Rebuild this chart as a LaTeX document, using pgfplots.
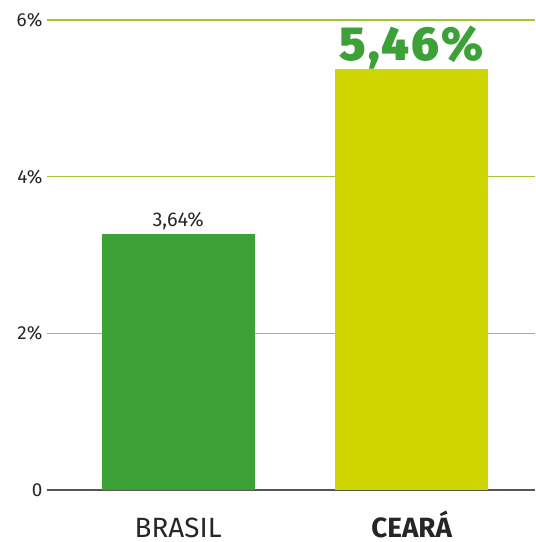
\documentclass[border=0pt]{standalone}
\usepackage{pgfplots}
\pgfplotsset{compat=1.18}
\usepackage{fontspec}
\setmainfont{Fira Sans}
\newfontfamily\heavyfont[LetterSpace=5]{Fira Sans Black}
\definecolor{barGreen}{HTML}{3DA138}
\definecolor{barYellow}{HTML}{CFD500}
\definecolor{gridGreen}{HTML}{A2C72C}
\definecolor{axisGray}{HTML}{555555}
\begin{document}
\begin{tikzpicture}
\begin{axis}[
    scale only axis,
    width=489bp, height=471bp,
    xmin=-0.562, xmax=1.528,
    ymin=0, ymax=6,
    axis x line*=bottom, axis y line*=left,
    y axis line style={draw=none},
    x axis line style={draw=axisGray, line width=1.2pt, -},
    xtick={0,1},
    xticklabels={BRASIL, \bfseries CEAR\'A},
    xticklabel style={anchor=base, inner sep=1.5bp, yshift=-43bp, font=\fontsize{28}{32}\selectfont, text=black!85},
    ytick={0,2,4,6},
    yticklabels={0, 2\%, 4\%, 6\%},
    yticklabel style={font=\fontsize{19}{22}\selectfont, text=black!85, xshift=-1bp},
    major tick style={draw=none},
    ymajorgrids=true,
    major grid style={draw=gridGreen, line width=1.1pt},
    ybar, bar width=153bp, bar shift=0pt,
    point meta=explicit symbolic,
    nodes near coords,
    clip=false,
]
\addplot[fill=barGreen, draw=none,
    every node near coord/.append style={font=\fontsize{20}{22}\selectfont, text=black!85, yshift=1bp}]
    coordinates {(0,3.27) [3,64\%]};
\addplot[fill=barYellow, draw=none,
    every node near coord/.append style={font=\heavyfont\fontsize{48}{52}\selectfont, text=barGreen, yshift=-4bp}]
    coordinates {(1,5.38) [5,46\%]};
\coordinate (tl) at (rel axis cs:0,1);
\coordinate (bl) at (rel axis cs:0,0);
\end{axis}
\path ([shift={(-47bp,20bp)}]tl) rectangle ([yshift=-52bp]bl);
\end{tikzpicture}
\end{document}
